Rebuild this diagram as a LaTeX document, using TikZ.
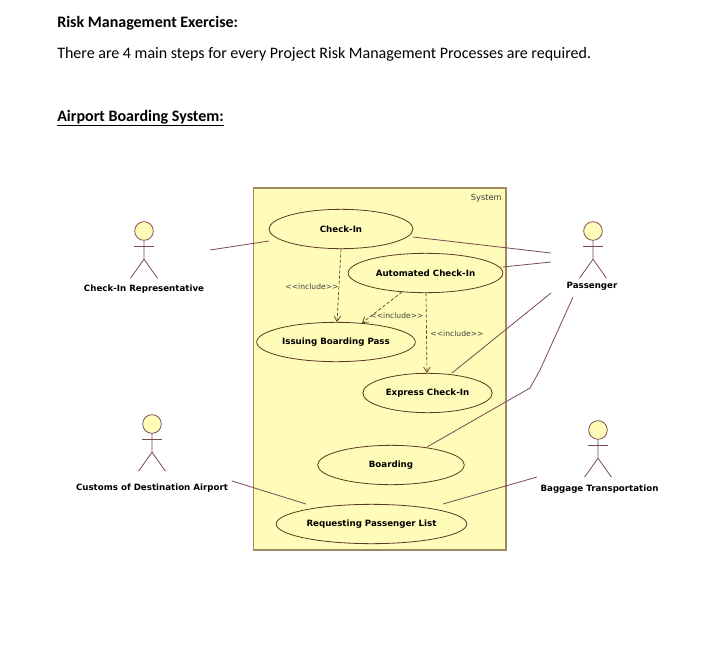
\documentclass[tikz,border=0pt]{standalone}
\usepackage{xcolor}
\usepackage{fontspec}
\setmainfont{Carlito}
\newfontfamily\umlfont{DejaVu Sans}
\usetikzlibrary{
  arrows.meta, shapes, positioning
}
\definecolor{C_FILL}{HTML}{FFFBB9}
\definecolor{C_SYS} {HTML}{A08860}
\definecolor{C_EDGE}{HTML}{5A3A22}
\definecolor{C_LINK}{HTML}{7A4A50}
\tikzset{
  %% -- page text --
  DOC/head/.style={anchor=base west, inner sep=0pt, font=\fontsize{12}{14}\selectfont\bfseries},
  DOC/body/.style={anchor=base west, inner sep=0pt, font=\fontsize{12}{14}\selectfont},
  %% -- system boundary --
  UC/system/.style={draw=C_SYS, line width=1pt, fill=C_FILL, minimum width=189.5pt, minimum height=271.5pt, inner sep=0pt},
  %% -- use case --
  UC/case/.style={
    ellipse, draw=C_EDGE, fill=C_FILL, inner sep=0pt,
    minimum height=29.5pt, line width=0.6pt,
    font=\umlfont\fontsize{6.5}{8}\selectfont\bfseries
  },
  %% -- actor label --
  UC/name/.style={inner sep=0pt, font=\umlfont\fontsize{6.5}{8}\selectfont\bfseries},
  %% -- actor head --
  UC/head/.style={circle, draw=C_LINK, fill=C_FILL, minimum size=14pt, inner sep=0pt, line width=0.6pt},
  %% -- association --
  UC/assoc/.style={draw=C_LINK, line width=0.6pt},
  %% -- include arrow --
  UC/incl/.style={-{Straight Barb[length=4pt,width=5pt]}, dashed, draw=C_EDGE, line width=0.5pt, dash pattern=on 2.5pt off 1.5pt},
  %% -- include label --
  UC/lbl/.style={inner sep=0pt, text=black!75, font=\umlfont\fontsize{5.7}{7}\selectfont},
}
\newcommand{\umlactor}[3]{%
  \node[UC/head] (#1) at (#2,#3) {};
  \draw[UC/assoc] (#1.south) -- ++(0,18.5) coordinate (#1hip)
    ++(-13.5,19) coordinate (#1l) -- (#1hip) -- ++(13.5,19) coordinate (#1r);
  \draw[UC/assoc] ([xshift=-7.5pt,yshift=-4pt]#1.south) -- ([xshift=7.5pt,yshift=-4pt]#1.south);
}
\begin{document}
\begin{tikzpicture}[x=0.75pt, y=-0.75pt]
\useasboundingbox (0,0) rectangle (726,664);

%% Page text
\node[DOC/head] (title) at (57,27) {Risk Management Exercise:};
\node[DOC/body] (intro) at (57,58) {There are 4 main steps for every Project Risk Management Processes are required.};
\node[DOC/head] (sub)   at (57,121) {\underline{Airport Boarding System:}};

%% System boundary
\node[UC/system] (sys) at (379.5,369) {};
\node[UC/lbl, anchor=east, font=\umlfont\fontsize{6.2}{7}\selectfont] (syslbl) at (502,198) {System};

%% Use cases
\node[UC/case, minimum width=108pt]   (checkin) at (341,229)   {Check-In};
\node[UC/case, minimum width=116pt]   (auto)    at (425.5,273) {Automated Check-In};
\node[UC/case, minimum width=119pt]   (issue)   at (336,342)   {Issuing Boarding Pass};
\node[UC/case, minimum width=97pt]    (express) at (427.5,393) {Express Check-In};
\node[UC/case, minimum width=110pt]   (board)   at (391,465)   {Boarding};
\node[UC/case, minimum width=143pt]   (reqlist) at (371.5,524) {Requesting Passenger List};

%% Actors
\umlactor{rep}{144}{231}
\umlactor{pax}{593}{231}
\umlactor{cust}{152}{424}
\umlactor{bag}{598}{430}
\node[UC/name] (replbl)  at (144,289) {Check-In Representative};
\node[UC/name] (paxlbl)  at (592,286) {Passenger};
\node[UC/name] (custlbl) at (152,488) {Customs of Destination Airport};
\node[UC/name] (baglbl)  at (599.5,489) {Baggage Transportation};

%% Free ends beside the actors
\coordinate (repend)  at (210,250);
\coordinate (paxa)    at (551,253);
\coordinate (paxb)    at (551,262);
\coordinate (paxc)    at (551,293);
\coordinate (paxd)    at (573,297);
\coordinate (bendu)   at (540,370);
\coordinate (bendl)   at (530,388);
\coordinate (custend) at (232,481);
\coordinate (bagend)  at (537,477);
\coordinate (ciright) at (413,237);
\coordinate (ciloft)  at (269,241);
\coordinate (autoend) at (503,267);
\coordinate (expend)  at (452,373);
\coordinate (brdend)  at (427,447);
\coordinate (reqa)    at (306,504);
\coordinate (reqb)    at (443,504);

%% Associations
\draw[UC/assoc] (repend) -- (ciloft);
\draw[UC/assoc] (ciright) -- (paxa);
\draw[UC/assoc] (autoend) -- (paxb);
\draw[UC/assoc] (expend) -- (paxc);
\draw[UC/assoc] (brdend) -- (bendl) -- (bendu) -- (paxd);
\draw[UC/assoc] (custend) -- (reqa);
\draw[UC/assoc] (reqb) -- (bagend);

%% Includes
\coordinate (incla) at (341,249);
\coordinate (inclb) at (337,322);
\coordinate (inclc) at (402,292);
\coordinate (incld) at (362,323);
\coordinate (incle) at (426,293);
\coordinate (inclf) at (427,373);
\draw[UC/incl] (incla) -- (inclb);
\draw[UC/incl] (inclc) -- (incld);
\draw[UC/incl] (incle) -- (inclf);
\node[UC/lbl] (lbla) at (312,287) {<{}<include>{}>};
\node[UC/lbl] (lblb) at (397,316) {<{}<include>{}>};
\node[UC/lbl] (lblc) at (457,334) {<{}<include>{}>};
\end{tikzpicture}
\end{document}
